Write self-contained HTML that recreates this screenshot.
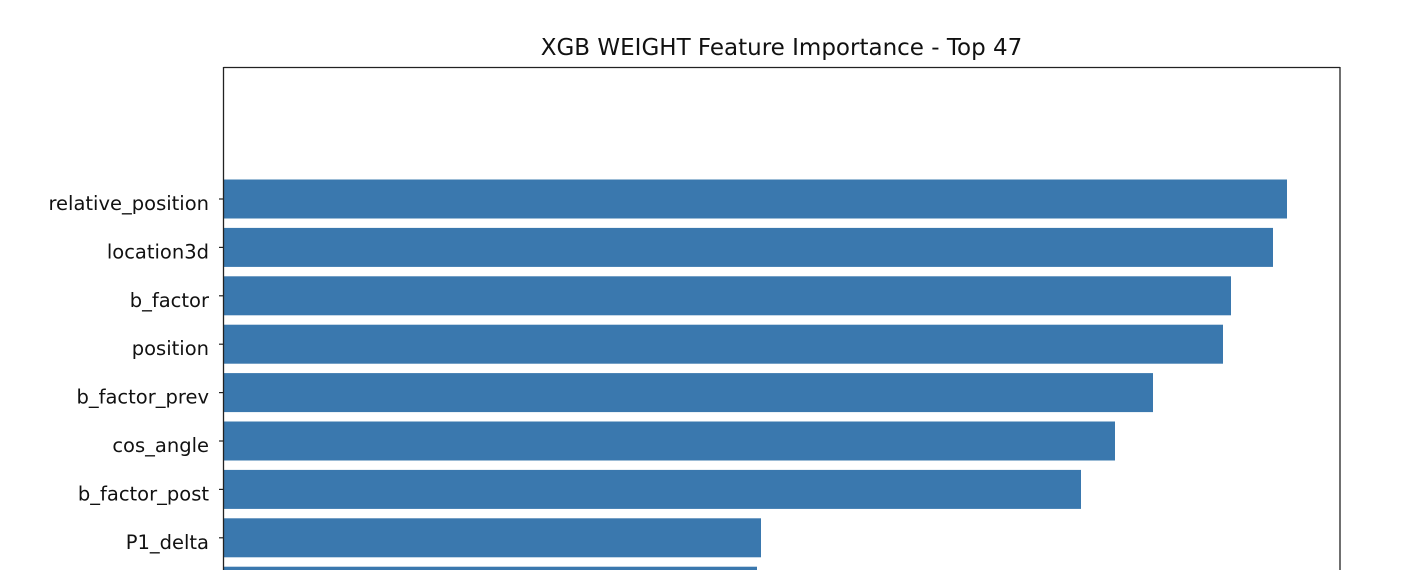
<!DOCTYPE html>
<html><head><meta charset="utf-8"><style>
html,body{margin:0;background:#fff;width:1412px;height:570px;overflow:hidden}
svg{display:block;font-family:"DejaVu Sans","Liberation Sans",sans-serif}
</style></head><body>
<svg id="chart" width="1412" height="570" viewBox="0 0 1412 570">
<text x="781.5" y="55" text-anchor="middle" font-size="23" fill="#111">XGB WEIGHT Feature Importance - Top 47</text>
<g id="bars"></g>
<line x1="223.5" y1="67.5" x2="1340" y2="67.5" stroke="#222" stroke-width="1.3"/>
<line x1="223.5" y1="67" x2="223.5" y2="570" stroke="#222" stroke-width="1.3"/>
<line x1="1340" y1="67" x2="1340" y2="570" stroke="#222" stroke-width="1.3"/>
</svg>
<script>
const features = ["relative_position","location3d","b_factor","position","b_factor_prev","cos_angle","b_factor_post","P1_delta","next_feature"];
const weights = [1063,1049,1007,999,929,891,857,537,533];
const xMin = 0, xMax = 1116;
const x0 = 224, x1 = 1340;
const firstCenter = 199, pitch = 48.4, barH = 39;
function xs(v){return x0 + (v - xMin) / (xMax - xMin) * (x1 - x0);}
function ys(i){return firstCenter + i * pitch;}
const g = document.getElementById('bars');
const NS = "http://www.w3.org/2000/svg";
features.forEach((f,i)=>{
  const r = document.createElementNS(NS,'rect');
  r.setAttribute('x', x0);
  r.setAttribute('y', ys(i) - barH/2);
  r.setAttribute('width', xs(weights[i]) - x0);
  r.setAttribute('height', Math.min(barH, 570 - (ys(i) - barH/2)));
  r.setAttribute('fill', '#3a78ae');
  
  
  g.appendChild(r);
  if (i < 8) {
    const t = document.createElementNS(NS,'line');
    t.setAttribute('x1', 219); t.setAttribute('x2', 223.5);
    t.setAttribute('y1', ys(i)); t.setAttribute('y2', ys(i));
    t.setAttribute('stroke', '#222'); t.setAttribute('stroke-width', '1.2');
    
    
    g.appendChild(t);
    const l = document.createElementNS(NS,'text');
    l.setAttribute('x', 209); l.setAttribute('y', ys(i) + 11);
    l.setAttribute('text-anchor', 'end'); l.setAttribute('font-size', '19.5');
    l.setAttribute('fill', '#111');
    l.textContent = f;
    
    
    g.appendChild(l);
  }
});
</script>
</body></html>
